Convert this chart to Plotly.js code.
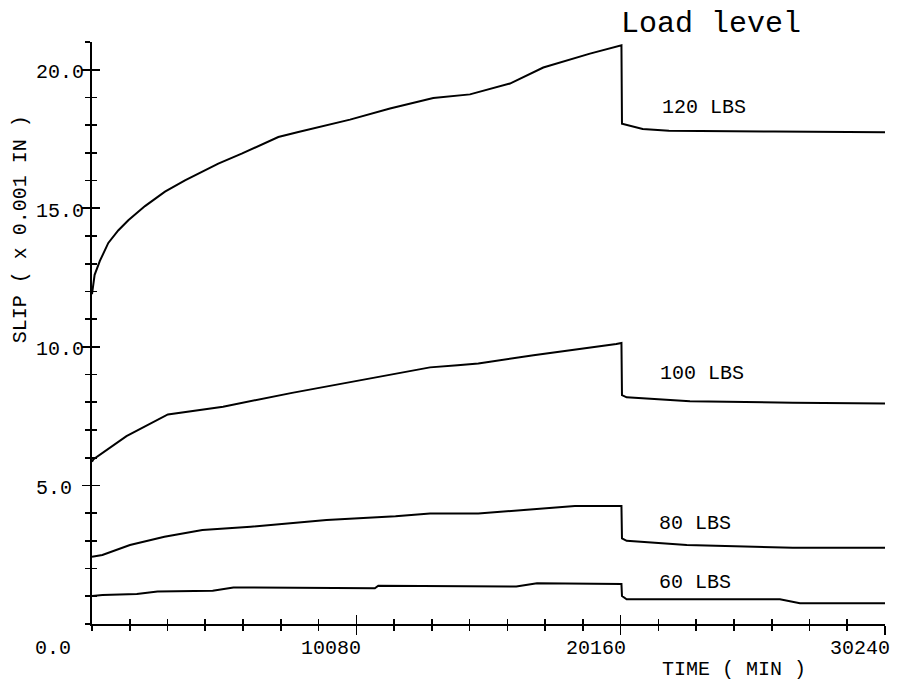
<!DOCTYPE html>
<html>
<head>
<meta charset="utf-8">
<script src="https://cdn.plot.ly/plotly-3.0.1.min.js"></script>
<style>
  html, body { margin: 0; padding: 0; background: #fff; }
  #chart { width: 897px; height: 685px; }
</style>
</head>
<body>
<div id="chart"></div>
<script>
// Creep slip under sustained load, then unloading at ~20160 min (two weeks)
const time120 = [0, 100, 300, 622, 1000, 1385, 2021, 2783, 3546, 4816, 5708, 7105, 7868, 9838, 11363, 13014, 14413, 15938, 17209, 18989, 20190, 20210, 21000, 22000, 26000, 30240];
const slip120 = [11.9, 12.6, 13.1, 13.75, 14.2, 14.57, 15.08, 15.6, 16.01, 16.61, 16.97, 17.57, 17.75, 18.2, 18.6, 18.98, 19.11, 19.5, 20.08, 20.58, 20.88, 18.05, 17.86, 17.8, 17.77, 17.74];

const time100 = [0, 60, 1315, 2894, 4998, 7629, 10260, 12890, 13942, 14731, 16836, 18809, 19993, 20190, 20210, 20388, 22039, 22802, 26729, 30240];
const slip100 = [5.85, 5.95, 6.78, 7.56, 7.84, 8.34, 8.8, 9.26, 9.34, 9.4, 9.7, 9.94, 10.1, 10.14, 8.26, 8.18, 8.1, 8.04, 7.98, 7.96];

const time80 = [0, 395, 1447, 2762, 4209, 6050, 8944, 11575, 12890, 14731, 16836, 18415, 20190, 20210, 20388, 22680, 26730, 30240];
const slip80 = [2.43, 2.49, 2.85, 3.15, 3.39, 3.51, 3.75, 3.89, 3.99, 3.99, 4.14, 4.26, 4.26, 3.09, 3.0, 2.85, 2.75, 2.75];

const time60 = [0, 400, 1710, 2499, 4604, 5393, 10786, 10918, 16180, 16970, 20190, 20210, 20388, 26233, 26996, 30240];
const slip60 = [1.01, 1.05, 1.08, 1.17, 1.2, 1.32, 1.29, 1.38, 1.35, 1.47, 1.44, 1.01, 0.89, 0.89, 0.75, 0.75];

// Curve labels (load level) and where they sit
const loadLabels = ["120 LBS", "100 LBS", "80 LBS", "60 LBS"];
const loadLabelTime = [21650, 21600, 21560, 21560];
const loadLabelSlip = [18.64, 9.05, 3.64, 1.48];

// Axis ticks
const xTickVals = [10080, 20160, 30240];
const xTickText = ["10080", "20160", "30240"];
const yTickVals = [5, 10, 15, 20];
const yTickText = ["5.0", "10.0", "15.0", "20.0"];

const plotFont = "Liberation Mono, DejaVu Sans Mono, monospace";
const ink = "#000";

function curve(x, y) {
  return { x: x, y: y, type: "scatter", mode: "lines", hoverinfo: "skip",
           line: { color: ink, width: 2 }, xaxis: "x", yaxis: "y" };
}

const data = [
  curve(time120, slip120),
  curve(time100, slip100),
  curve(time80, slip80),
  curve(time60, slip60),
  // carrier for the overlaid tick axes
  { x: [0], y: [0], type: "scatter", mode: "markers", marker: { opacity: 0 },
    hoverinfo: "skip", xaxis: "x2", yaxis: "y2" }
];

const xRange = [0, 30240];
const yRange = [0, 21];

const tickCommonX = {
  range: xRange, tickmode: "array", tickvals: xTickVals, showticklabels: false,
  showgrid: false, zeroline: false, tickwidth: 1.6, tickcolor: ink, ticklen: 9,
  minor: { tick0: 0, dtick: 1440, ticklen: 5, tickwidth: 1.6, tickcolor: ink }
};
const tickCommonY = {
  range: yRange, tickmode: "array", tickvals: yTickVals, showticklabels: false,
  showgrid: false, zeroline: false, tickwidth: 1.6, tickcolor: ink, ticklen: 8,
  minor: { tick0: 0, dtick: 1, ticklen: 5, tickwidth: 1.6, tickcolor: ink }
};

const annotations = [];

// y tick labels, left-aligned in a column
yTickVals.forEach((v, i) => {
  annotations.push({ text: yTickText[i], xref: "paper", x: 0, xanchor: "left", xshift: -58,
    yref: "y", y: v, yanchor: "middle", yshift: -3, showarrow: false,
    font: { family: plotFont, size: 20, color: ink } });
});
// origin label
annotations.push({ text: "0.0", xref: "paper", x: 0, xanchor: "left", xshift: -59,
  yref: "paper", y: 0, yanchor: "middle", yshift: -24, showarrow: false,
  font: { family: plotFont, size: 20, color: ink } });

// x tick labels, ending just right of their ticks
xTickVals.forEach((v, i) => {
  annotations.push({ text: xTickText[i], xref: "x", x: v, xanchor: "right", xshift: 7,
    yref: "paper", y: 0, yanchor: "middle", yshift: -24, showarrow: false,
    font: { family: plotFont, size: 20, color: ink } });
});

// axis titles
annotations.push({ text: "TIME ( MIN )", xref: "x", x: 24480, xanchor: "center",
  yref: "paper", y: 0, yanchor: "middle", yshift: -45, showarrow: false,
  font: { family: plotFont, size: 20, color: ink } });
annotations.push({ text: "SLIP ( x 0.001 IN )", textangle: -90, xref: "paper", x: 0,
  xanchor: "center", xshift: -72, yref: "y", y: 14.24, yanchor: "middle", showarrow: false,
  font: { family: plotFont, size: 20, color: ink } });

// load level labels
loadLabels.forEach((t, i) => {
  annotations.push({ text: t, xref: "x", x: loadLabelTime[i], xanchor: "left",
    yref: "y", y: loadLabelSlip[i], yanchor: "middle", showarrow: false,
    font: { family: plotFont, size: 20, color: ink } });
});

// legend heading
annotations.push({ text: "Load level", xref: "paper", x: 1, xanchor: "left", xshift: -266,
  yref: "paper", y: 1, yanchor: "middle", yshift: 18, showarrow: false,
  font: { family: "Courier New, Liberation Mono, monospace", size: 30, color: ink } });

const layout = {
  width: 897, height: 685,
  margin: { l: 92, r: 12, t: 42, b: 61, pad: 0 },
  paper_bgcolor: "#fff", plot_bgcolor: "#fff",
  showlegend: false,
  xaxis: Object.assign({}, tickCommonX, {
    showline: true, linewidth: 2, linecolor: ink, ticks: "outside",
    minor: Object.assign({}, tickCommonX.minor, { ticks: "outside" })
  }),
  xaxis2: Object.assign({}, tickCommonX, {
    overlaying: "x", anchor: "y", side: "bottom", showline: false, ticks: "inside",
    minor: Object.assign({}, tickCommonX.minor, { ticks: "inside" })
  }),
  yaxis: Object.assign({}, tickCommonY, {
    showline: true, linewidth: 2, linecolor: ink, ticks: "outside",
    minor: Object.assign({}, tickCommonY.minor, { ticks: "outside" })
  }),
  yaxis2: Object.assign({}, tickCommonY, {
    overlaying: "y", anchor: "x", side: "left", showline: false, ticks: "inside",
    minor: Object.assign({}, tickCommonY.minor, { ticks: "inside" })
  }),
  annotations: annotations
};

Plotly.newPlot("chart", data, layout, { displayModeBar: false, staticPlot: true });
</script>
</body>
</html>
